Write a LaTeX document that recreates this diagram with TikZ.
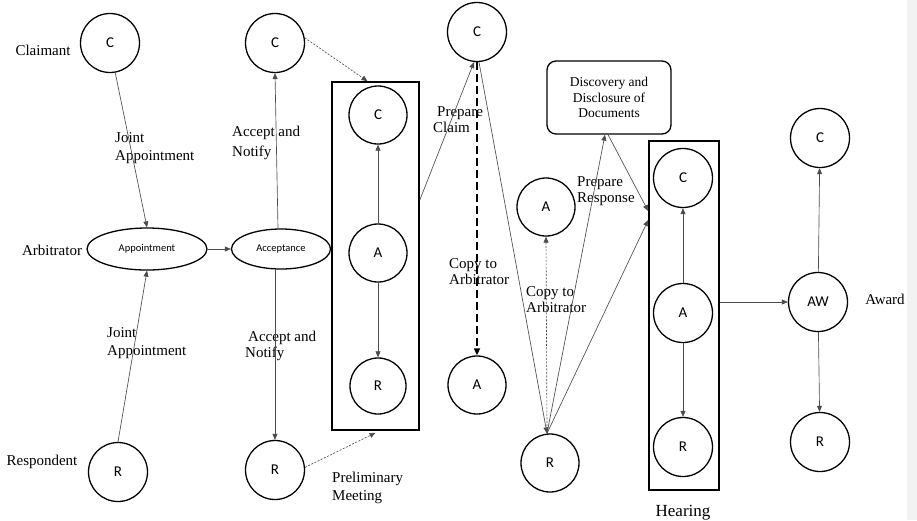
\documentclass[tikz,border=0pt]{standalone}
\usepackage{fontspec}
\setmainfont{Liberation Serif}
\newfontfamily\nodefont{Carlito}
\usetikzlibrary{arrows.meta,calc,shapes.geometric}
\begin{document}
\begin{tikzpicture}[x=1pt,y=-1pt,
  circ/.style={circle,draw,line width=1.3pt,minimum size=59pt,inner sep=0pt,font=\nodefont\fontsize{15}{15}\selectfont},
  ell/.style={ellipse,draw,line width=1.3pt,inner sep=0pt,font=\nodefont\fontsize{10.5}{11}\selectfont},
  lbl/.style={font=\fontsize{15}{18}\selectfont,align=left,inner sep=0pt},
  bigbox/.style={draw,line width=1.6pt,inner sep=0pt},
  con/.style={draw=black!70,line width=0.65pt,-{Triangle[length=6pt,width=5pt]}},
  dotcon/.style={con,dash pattern=on 2pt off 1.5pt},
  thickdash/.style={draw=black,line width=1.6pt,dash pattern=on 8pt off 4pt,-{Triangle[length=7pt,width=6pt]}}
]
\useasboundingbox (0,0) rectangle (917,520);
\fill[black!5] (907,0) rectangle (917,520);

% column 1
\node[circ] (c1) at (110,43) {C};
\node[circ] (r1) at (118,472) {R};
\node[ell,minimum width=120pt,minimum height=42pt] (app) at (147,249) {Appointment};
\node[lbl] (tclaim) at (43,50) {Claimant};
\node[lbl] (tarb) at (52,250) {Arbitrator};
\node[lbl] (tresp) at (42,462) {Respondent};

% column 2
\node[ell,minimum width=99pt,minimum height=40pt] (acc) at (281,249) {Acceptance};
\node[circ] (c2) at (275,43) {C};
\node[circ] (r2) at (275,470) {R};

% box 1
\node[bigbox,minimum width=87pt,minimum height=348pt] (box1) at (375.5,256) {};
\node[circ,minimum size=58pt] (bc1) at (378,115) {C};
\node[circ,minimum size=58pt] (ba1) at (378,253) {A};
\node[circ,minimum size=56pt] (br1) at (378,386) {R};

% column 4
\node[circ] (tc) at (477,32) {C};
\node[circ,minimum size=58pt] (a2) at (477,385) {A};
\node[circ,minimum size=58pt] (a3) at (546,207) {A};
\node[circ,minimum size=58pt] (r3) at (550,463) {R};
\node[draw,line width=1.3pt,rounded corners=9pt,minimum width=124pt,minimum height=73pt,align=center,inner sep=0pt,font=\fontsize{13.5}{15.5}\selectfont] (disc) at (609,97.5) {Discovery and\\Disclosure of\\Documents};

% box 2
\node[bigbox,minimum width=70pt,minimum height=349pt] (box2) at (684,315.5) {};
\node[circ] (hc) at (683,178) {C};
\node[circ] (ha) at (683,313) {A};
\node[circ] (hr) at (683,447) {R};

% column 6
\node[circ] (rc) at (820,138) {C};
\node[circ] (aw) at (818,302) {AW};
\node[circ] (rr) at (820,442) {R};
\node[lbl] (taward) at (885,299) {Award};
\node[lbl,font=\fontsize{17}{20}\selectfont] (thear) at (683,513) {Hearing};

% labels
\node[lbl,anchor=west] (lja1) at (115,148) {Joint\\Appointment};
\node[lbl,anchor=west,font=\fontsize{15}{20}\selectfont] (lan1) at (232,143) {Accept and\\Notify};
\node[lbl,anchor=west] (lja2) at (107,343) {Joint\\Appointment};
\node[lbl,anchor=west,font=\fontsize{15}{16}\selectfont] (lan2) at (245,346) {\hspace{3pt}Accept and\\Notify};
\node[lbl,anchor=west] (lpm) at (332,488) {Preliminary\\Meeting};
\node[lbl,anchor=west,font=\fontsize{15}{16}\selectfont] (lpc) at (433,120) {\hspace{4pt}Prepare\\Claim};
\node[lbl,anchor=west,font=\fontsize{15}{16}\selectfont] (lca1) at (449,272) {Copy to\\Arbitrator};
\node[lbl,anchor=west,font=\fontsize{15}{16}\selectfont] (lca2) at (526,300) {Copy to\\Arbitrator};
\node[lbl,anchor=west,font=\fontsize{15}{16}\selectfont] (lpr) at (577,191) {Prepare\\Response};

% connectors
\draw[con] (c1.-80) -- (app.north);
\draw[con] (r1.north) -- (app.south);
\draw[con] (app.east) -- (acc.west);
\draw[con] ([xshift=-3pt]acc.north) -- (c2.south);
\draw[con] ([xshift=-6pt]acc.south) -- (r2.north);
\draw[dotcon] (c2.10) -- ([xshift=-8pt]box1.north);
\draw[dotcon] (r2.5) -- ([yshift=-2pt]box1.south);
\draw[con] (ba1) -- (bc1);
\draw[con] (ba1) -- (br1);
\draw[con] ([yshift=56pt]box1.east) -- ([xshift=-3pt]tc.south);
\draw[thickdash] (tc.south) -- (a2.north);
\draw[con] ([xshift=2pt]tc.south) -- ([xshift=-3pt]r3.north);
\draw[dotcon] ([xshift=-3pt]r3.north) -- (a3.south);
\draw[con] ([xshift=-3pt]r3.north) -- ([xshift=-4pt]disc.south);
\draw[con] ([xshift=-1pt]disc.south) -- ([yshift=104.5pt]box2.west);
\draw[con] ([xshift=-3pt]r3.north) -- ([yshift=95.5pt]box2.west);
\draw[con] (ha) -- (hc);
\draw[con] (ha) -- (hr);
\draw[con] (box2.east |- aw) -- (aw.west);
\draw[con] (aw) -- (rc);
\draw[con] (aw) -- (rr);
\end{tikzpicture}
\end{document}
